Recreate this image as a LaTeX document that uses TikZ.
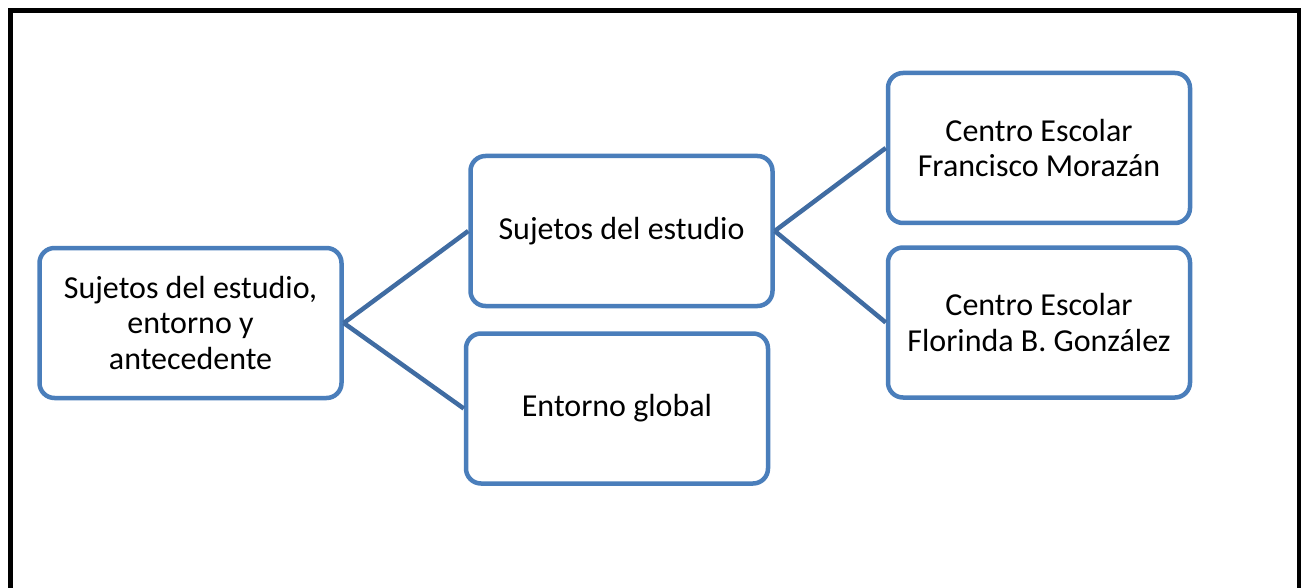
\documentclass[tikz,border=0pt]{standalone}
\usepackage{fontspec}
\setmainfont{Carlito}
\definecolor{boxblue}{RGB}{74,126,187}
\definecolor{lineblue}{RGB}{64,108,162}

\begin{document}
\begin{tikzpicture}[x=1pt,y=-1pt,
	caja/.style={draw=boxblue,line width=4.5pt,rounded corners=15pt,fill=white,
		minimum width=302pt,minimum height=150pt,align=center,
		font=\fontsize{32}{35.5}\selectfont},
	enlace/.style={draw=lineblue,line width=4.5pt}]
\useasboundingbox (0,0) rectangle (1301,588);
\draw[line width=5pt] (10.5,588) -- (10.5,10.5) -- (1299,10.5) -- (1299,588);
\node[caja] (raiz) at (190.5,323) {Sujetos del estudio,\\entorno y\\antecedente};
\node[caja] (sujetos) at (621.5,231) {Sujetos del estudio};
\node[caja] (entorno) at (617,408.5) {Entorno global};
\node[caja] (morazan) at (1039,148) {Centro Escolar\\Francisco Morazán};
\node[caja] (gonzalez) at (1039,322.5) {Centro Escolar\\Florinda B. González};
\foreach \a/\b in {raiz/sujetos,raiz/entorno,sujetos/morazan,sujetos/gonzalez}{
	\draw[enlace] (\a.east) -- (\b.west);
}
\end{tikzpicture}
\end{document}
